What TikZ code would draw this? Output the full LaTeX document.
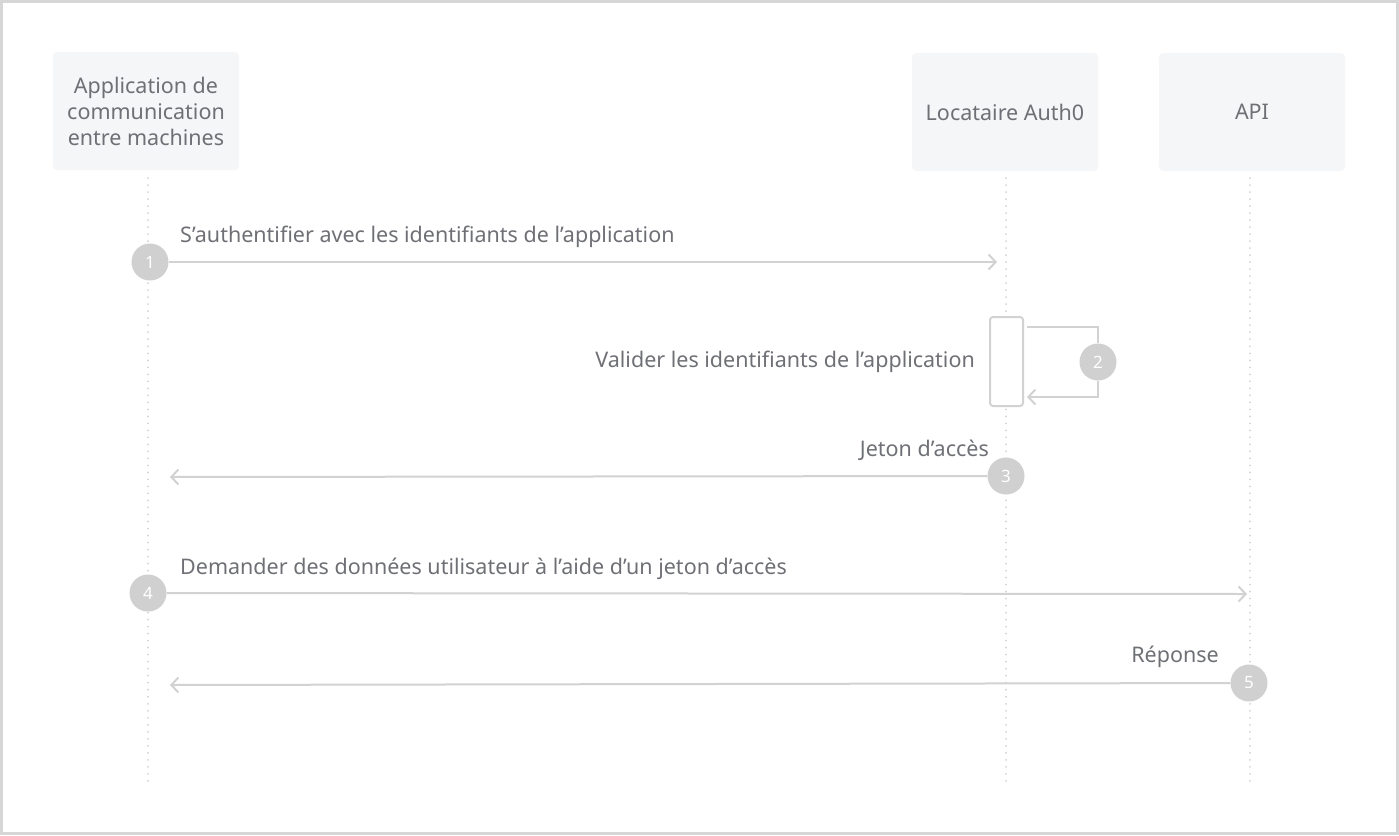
\documentclass[tikz,border=0pt]{standalone}
\usepackage{fontspec}
\setmainfont{Noto Sans}
\usetikzlibrary{arrows.meta}
\definecolor{txt}{HTML}{6E7075}
\definecolor{ln}{HTML}{D2D2D2}
\definecolor{boxfill}{HTML}{F5F6F8}
\definecolor{circ}{HTML}{D0D0D0}
\definecolor{frame}{HTML}{D6D6D6}
\tikzset{
  actor/.style={fill=boxfill, draw=none, rounded corners=4pt, minimum width=186pt, minimum height=118pt, inner sep=0pt, text=txt, font=\fontsize{21.5}{26}\selectfont, align=center},
  lifeline/.style={draw=ln, line width=2pt, dash pattern=on 0.01pt off 7pt, line cap=round},
  msg/.style={draw=ln, line width=2pt, -{Straight Barb[length=7pt,width=15pt,line width=2pt]}},
  seg/.style={draw=ln, line width=2pt},
  num/.style={circle, fill=circ, minimum size=37pt, inner sep=0pt, text=white, font=\fontsize{17}{17}\selectfont\bfseries},
  lbl/.style={text=txt, font=\fontsize{21.5}{24}\selectfont, inner sep=0pt},
}
\begin{document}
\begin{tikzpicture}[x=1pt,y=-1pt]
\useasboundingbox (0,0) rectangle (1399,835);
\draw[frame, line width=3pt] (1.5,1.5) rectangle (1397.5,833.5);
% actors
\node[actor] (a) at (146,111) {Application de\\communication\\entre machines};
\node[actor] (b) at (1005,112) {Locataire Auth0};
\node[actor] (c) at (1252,112) {API};
% lifelines
\coordinate (a1) at (148,178); \coordinate (a2) at (148,782);
\coordinate (b1) at (1006,178); \coordinate (b2) at (1006,782);
\coordinate (c1) at (1250,178); \coordinate (c2) at (1250,782);
\draw[lifeline] (a1) -- (a2);
\draw[lifeline] (b1) -- (b2);
\draw[lifeline] (c1) -- (c2);
% activation
\node[draw=ln, line width=2pt, fill=white, rounded corners=3pt, minimum width=33pt, minimum height=89pt, inner sep=0pt] (act) at (1006.5,361.5) {};
% message 1
\node[num] (n1) at (150,262) {1};
\coordinate (e1) at (997,262);
\draw[msg] (n1) -- (e1);
\node[lbl, anchor=west] (l1) at (180,237) {S’authentifier avec les identifiants de l’application};
% message 2
\coordinate (s2) at (1027,327);
\coordinate (e2) at (1027,397);
\node[num] (n2) at (1098,362) {2};
\draw[seg] (s2) -- (1098,327) -- (n2);
\draw[msg] (n2) -- (1098,397) -- (e2);
\node[lbl, anchor=east] (l2) at (975,362) {Valider les identifiants de l’application};
% message 3
\node[num] (n3) at (1006,476) {3};
\coordinate (e3) at (170,477);
\draw[msg] (n3) -- (e3);
\node[lbl, anchor=east] (l3) at (989,450) {Jeton d’accès};
% message 4
\node[num] (n4) at (148,593) {4};
\coordinate (e4) at (1247,594);
\draw[msg] (n4) -- (e4);
\node[lbl, anchor=west] (l4) at (180,569) {Demander des données utilisateur à l’aide d’un jeton d’accès};
% message 5
\node[num] (n5) at (1249,683) {5};
\coordinate (e5) at (170,685);
\draw[msg] (n5) -- (e5);
\node[lbl, anchor=east] (l5) at (1219,657) {Réponse};
\end{tikzpicture}
\end{document}
